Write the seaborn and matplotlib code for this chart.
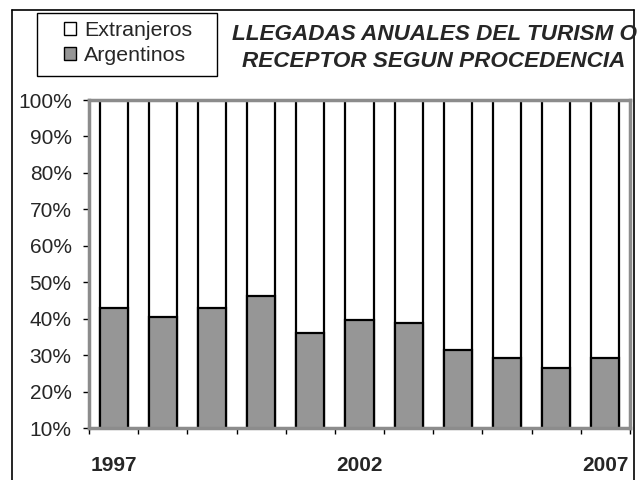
import matplotlib
matplotlib.use("Agg")
import matplotlib.pyplot as plt
import matplotlib.patches as mpatches
import matplotlib.lines as mlines
import seaborn as sns
import pandas as pd

years = [1997, 1998, 1999, 2000, 2001, 2002, 2003, 2004, 2005, 2006, 2007]
argentinos = [42.8, 40.5, 42.8, 46.3, 36.2, 39.5, 38.9, 31.5, 29.3, 26.5, 29.3]
extranjeros = [100 - a for a in argentinos]
shown_years = ["1997", "2002", "2007"]

df = pd.DataFrame({"anio": [str(y) for y in years],
                   "arg": argentinos,
                   "total": [a + e for a, e in zip(argentinos, extranjeros)]})

sns.set_style("white")
plt.rcParams["font.family"] = ["Liberation Sans", "DejaVu Sans"]

W, H = 642, 480
fig = plt.figure(figsize=(6.42, 4.8), dpi=100)
ax = fig.add_axes([89 / W, 1 - 428 / H, (630 - 89) / W, (428 - 100) / H])

sns.barplot(data=df, x="anio", y="total", color="white", edgecolor="black",
            linewidth=1.6, width=0.57, saturation=1, ax=ax)
sns.barplot(data=df, x="anio", y="arg", color="#969696", edgecolor="black",
            linewidth=1.6, width=0.57, saturation=1, ax=ax)

ax.set_ylim(10, 100)
ax.set_xlim(-0.5, len(years) - 0.5)
ax.set_yticks(range(10, 101, 10))
ax.set_yticklabels([f"{v}%" for v in range(10, 101, 10)], fontsize=15)
ax.tick_params(axis="y", length=4.5, width=1, color="black", pad=8, left=True)

ax.set_xticks([years.index(int(s)) for s in shown_years])
ax.set_xticklabels(shown_years, fontsize=15, fontweight="bold")
ax.set_xticks([i - 0.5 for i in range(len(years) + 1)], minor=True)
ax.tick_params(axis="x", which="major", length=0, pad=20)
ax.tick_params(axis="x", which="minor", length=4.5, width=1, color="black", bottom=True)
ax.set_xlabel("")
ax.set_ylabel("")

for s in ax.spines.values():
    s.set_visible(True)
    s.set_color("#8c8c8c")
    s.set_linewidth(2.5)

# black axis line under the gray one
ax.axhline(10, color="black", linewidth=1, zorder=0, clip_on=False)

# legend box
fig.patches.append(mpatches.Rectangle((37 / W, 1 - 76 / H), (217 - 37) / W, (76 - 13) / H,
                                      transform=fig.transFigure, fill=False,
                                      edgecolor="black", linewidth=1))
handles = [mpatches.Patch(facecolor="white", edgecolor="black", label="Extranjeros"),
           mpatches.Patch(facecolor="#969696", edgecolor="black", label="Argentinos")]
fig.legend(handles=handles, loc="upper left", bbox_to_anchor=(64 / W, 1 - 21 / H),
           fontsize=15.4, frameon=False, handlelength=0.55, handleheight=0.55,
           handletextpad=0.4, borderpad=0, labelspacing=0.27, borderaxespad=0)

fig.text(434 / W, 1 - 48 / H, "LLEGADAS ANUALES DEL TURISM O\nRECEPTOR SEGUN PROCEDENCIA",
         ha="center", va="center", fontsize=16.2, fontweight="bold", style="italic",
         linespacing=1.38)

# outer frame (left, top, right)
for xs, ys in [([12, 12], [10, 480]), ([12, 634], [10, 10]), ([634, 634], [10, 480])]:
    fig.lines.append(mlines.Line2D([x / W for x in xs], [1 - y / H for y in ys],
                                   transform=fig.transFigure, color="black", linewidth=1.2))

fig.savefig("out.png", dpi=100)
